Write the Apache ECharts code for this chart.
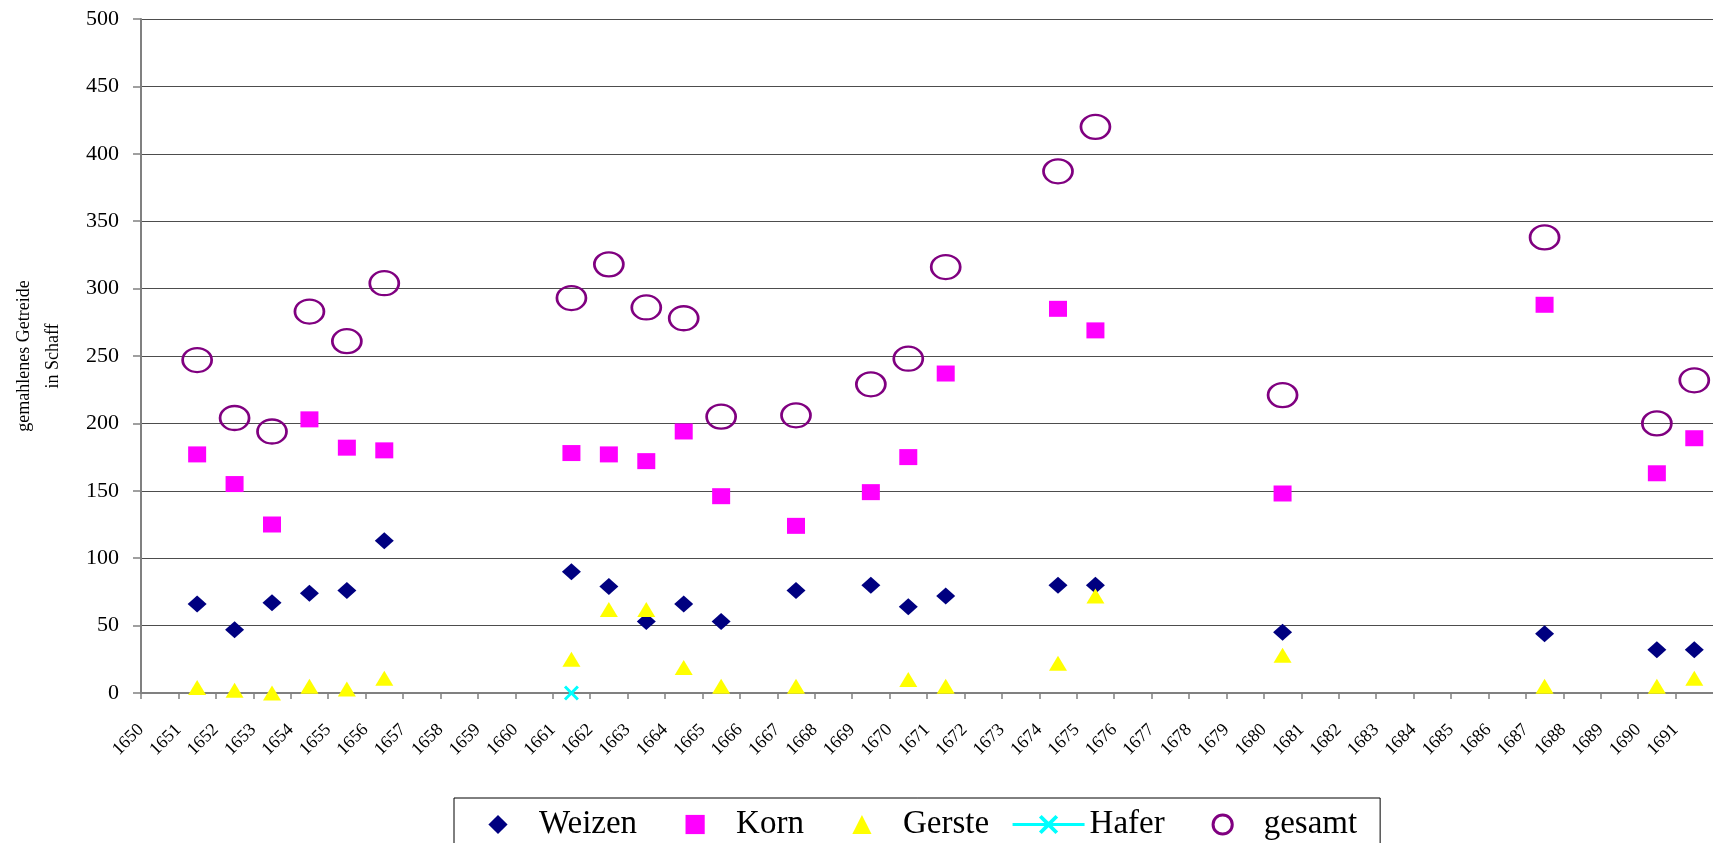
<!DOCTYPE html>
<html>
<head>
<meta charset="utf-8">
<title>gemahlenes Getreide</title>
<script src="https://cdn.jsdelivr.net/npm/echarts@6/dist/echarts.min.js"></script>
<style>
html, body { margin: 0; padding: 0; background: #fff; }
#chart { width: 1713px; height: 843px; }
</style>
</head>
<body>
<div id="chart"></div>
<script>
// x-Position der Werte (liegen jeweils zwischen zwei Jahres-Teilstrichen)
var jahre  = [1651.5, 1652.5, 1653.5, 1654.5, 1655.5, 1656.5, 1661.5, 1662.5, 1663.5, 1664.5, 1665.5,
              1667.5, 1669.5, 1670.5, 1671.5, 1674.5, 1675.5, 1680.5, 1687.5, 1690.5, 1691.5];
var weizen = [66, 47, 67, 74, 76, 113, 90, 79, 53, 66, 53, 76, 80, 64, 72, 80, 80, 45, 44, 32, 32];
var korn   = [177, 155, 125, 203, 182, 180, 178, 177, 172, 194, 146, 124, 149, 175, 237, 285, 269, 148, 288, 163, 189];
var gerste = [4, 2, 0, 5, 3, 11, 25, 62, 62, 19, 5, 5, null, 10, 5, 22, 72, 28, 5, 5, 11];
var hafer  = [null, null, null, null, null, null, 0, null, null, null, null,
              null, null, null, null, null, null, null, null, null, null];
var gesamt = [247, 204, 194, 283, 261, 304, 293, 318, 286, 278, 205, 206, 229, 248, 316, 387, 420, 221, 338, 200, 232];

var schrift = 'Liberation Serif';
var kreuz = 'path://M0,1.4L1.4,0L5,3.6L8.6,0L10,1.4L6.4,5L10,8.6L8.6,10L5,6.4L1.4,10L0,8.6L3.6,5Z';

function paare(werte) {
    var out = [];
    for (var i = 0; i < jahre.length; i++) {
        if (werte[i] !== null) {
            out.push([jahre[i], werte[i]]);
        }
    }
    return out;
}

var myChart = echarts.init(document.getElementById('chart'));

var option = {
    backgroundColor: '#ffffff',
    animation: false,
    grid: {
        left: 141,
        top: 19,
        right: -13,
        bottom: 150,
        containLabel: false
    },
    legend: {
        left: 454,
        top: 798,
        orient: 'horizontal',
        itemWidth: 72,
        itemHeight: 24,
        itemGap: 22,
        padding: [10, 23, 20, 8],
        borderColor: '#000',
        borderWidth: 1,
        textStyle: {
            fontFamily: schrift,
            fontSize: 33,
            color: '#000'
        },
        data: [
            {name: 'Weizen', itemStyle: {color: '#000080', borderWidth: 0}, lineStyle: {width: 0}},
            {name: 'Korn', itemStyle: {color: '#ff00ff', borderWidth: 0}, lineStyle: {width: 0}},
            {name: 'Gerste', itemStyle: {color: '#ffff00', borderWidth: 0}, lineStyle: {width: 0}},
            {name: 'Hafer', itemStyle: {color: '#00ffff', borderWidth: 0}, lineStyle: {color: '#00ffff', width: 3}},
            {name: 'gesamt', itemStyle: {color: 'rgba(0,0,0,0)', borderColor: '#800080', borderWidth: 3}, lineStyle: {width: 0}}
        ]
    },
    xAxis: {
        type: 'value',
        min: 1650,
        max: 1692,
        interval: 1,
        axisLine: {onZero: false, lineStyle: {color: '#808080', width: 2}},
        axisTick: {show: true, length: 6, lineStyle: {color: '#808080', width: 1.5}},
        splitLine: {show: false},
        axisLabel: {
            rotate: 45,
            margin: 34,
            showMaxLabel: false,
            fontFamily: schrift,
            fontSize: 18,
            color: '#000',
            formatter: function (v) { return String(v); }
        }
    },
    yAxis: {
        type: 'value',
        min: 0,
        max: 500,
        interval: 50,
        name: 'gemahlenes Getreide\nin Schaff',
        nameLocation: 'middle',
        nameGap: 73,
        nameRotate: 90,
        nameTextStyle: {
            fontFamily: schrift,
            fontSize: 18,
            lineHeight: 29,
            color: '#000'
        },
        axisLine: {show: true, lineStyle: {color: '#808080', width: 2}},
        axisTick: {show: true, inside: false, length: 8, lineStyle: {color: '#808080', width: 1.5}},
        splitLine: {show: true, lineStyle: {color: '#4d4d4d', width: 1}},
        axisLabel: {
            margin: 22,
            fontFamily: schrift,
            fontSize: 22,
            color: '#000'
        }
    },
    series: [
        {
            name: 'Weizen',
            type: 'line',
            data: paare(weizen),
            symbol: 'diamond',
            symbolSize: [19, 17],
            lineStyle: {width: 0},
            itemStyle: {color: '#000080'}
        },
        {
            name: 'Korn',
            type: 'line',
            data: paare(korn),
            symbol: 'rect',
            symbolSize: [18, 16],
            lineStyle: {width: 0},
            itemStyle: {color: '#ff00ff'}
        },
        {
            name: 'Gerste',
            type: 'line',
            data: paare(gerste),
            symbol: 'triangle',
            symbolSize: [18, 15],
            lineStyle: {width: 0},
            itemStyle: {color: '#ffff00'}
        },
        {
            name: 'Hafer',
            type: 'line',
            data: paare(hafer),
            symbol: kreuz,
            symbolSize: 15,
            lineStyle: {width: 0},
            itemStyle: {color: '#00ffff'}
        },
        {
            name: 'gesamt',
            type: 'line',
            data: paare(gesamt),
            symbol: 'circle',
            symbolSize: [29, 24],
            lineStyle: {width: 0},
            itemStyle: {color: 'rgba(0,0,0,0)', borderColor: '#800080', borderWidth: 2.5}
        }
    ]
};

myChart.setOption(option);
</script>
</body>
</html>
